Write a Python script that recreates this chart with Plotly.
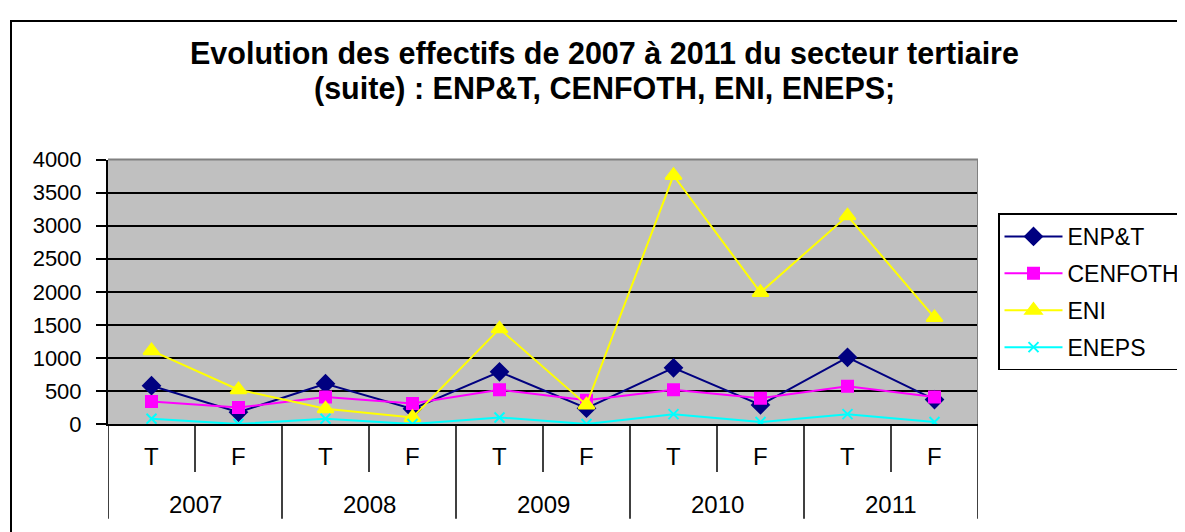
import plotly.graph_objects as go

# categories: two-level axis (year / period)
years = ["2007", "2008", "2009", "2010", "2011"]
periods = ["T", "F"]
labels = [(y, p) for y in years for p in periods]

# series values
enpt = [580, 180, 610, 230, 790, 240, 850, 290, 1010, 370]
cenfoth = [340, 250, 410, 310, 520, 360, 520, 390, 570, 410]
eni = [1110, 520, 230, 100, 1440, 290, 3760, 1990, 3150, 1610]
eneps = [80, 0, 80, 0, 100, 0, 150, 30, 150, 30]

W, H = 1185, 532
FONT = "Liberation Sans, Arial, sans-serif"

# screen -> figure pixel mapping, measured from earlier renders
X_OFF = 8
Y_OFF, Y_SCALE = 18.1, 0.955


def py(pix):
    """target screen row -> paper y"""
    fy = max((pix - Y_OFF) / Y_SCALE, 1)
    return 1 - fy / H


def px(pix):
    return (pix - X_OFF) / W


xs = list(range(len(labels)))

fig = go.Figure()

series = [
    ("ENP&T", enpt, "#000080", "diamond", 13),
    ("CENFOTH", cenfoth, "#FF00FF", "square", 11),
    ("ENI", eni, "#FFFF00", "triangle-up", 14),
    ("ENEPS", eneps, "#00FFFF", "x-thin", 10),
]
for name, vals, color, symbol, size in series:
    fig.add_trace(go.Scatter(
        x=xs,
        y=vals,
        mode="lines+markers",
        name=name,
        legendgroup=name,
        line=dict(color=color, width=2),
        marker=dict(symbol=symbol, size=size, color=color,
                    line=dict(color=color, width=2)),
    ))

shapes = []
# outer chart frame (runs off the right and bottom edge)
shapes.append(dict(type="rect", xref="paper", yref="paper",
                   x0=px(11), x1=1.2, y0=-0.2, y1=py(12),
                   line=dict(color="black", width=2), layer="below"))
# plot area border (gray top/right)
shapes.append(dict(type="line", xref="x", yref="paper",
                   x0=-0.5, x1=len(labels) - 0.5, y0=py(158), y1=py(158),
                   line=dict(color="#808080", width=2), layer="above"))
shapes.append(dict(type="line", xref="x", yref="paper",
                   x0=len(labels) - 0.5, x1=len(labels) - 0.5, y0=py(158), y1=py(423),
                   line=dict(color="#808080", width=2), layer="above"))

annotations = []
# period dividers and labels
for i, (yr, p) in enumerate(labels):
    annotations.append(dict(x=i, y=py(456), xref="x", yref="paper", text=p,
                            yanchor="middle", showarrow=False,
                            font=dict(size=24, color="black")))
    if p == periods[0]:
        shapes.append(dict(type="line", xref="x", yref="paper",
                           x0=i + 0.5, x1=i + 0.5, y0=py(423), y1=py(471),
                           line=dict(color="black", width=1.5)))
# year dividers and labels
for j, yr in enumerate(years):
    c = j * len(periods) + (len(periods) - 1) / 2
    annotations.append(dict(x=c, y=py(504), xref="x", yref="paper", text=yr,
                            yanchor="middle", showarrow=False,
                            font=dict(size=24, color="black")))
for j in range(len(years) + 1):
    xb = j * len(periods) - 0.5
    shapes.append(dict(type="line", xref="x", yref="paper",
                       x0=xb, x1=xb, y0=py(423), y1=py(518),
                       line=dict(color="black", width=1.5)))

# title, two lines
annotations.append(dict(x=px(604), y=py(51), xref="paper", yref="paper",
                        text="<b>Evolution des effectifs de 2007 à 2011 du secteur tertiaire</b>",
                        yanchor="middle", showarrow=False,
                        font=dict(size=30.5, color="black")))
annotations.append(dict(x=px(604), y=py(87), xref="paper", yref="paper",
                        text="<b>(suite) : ENP&T, CENFOTH, ENI, ENEPS;</b>",
                        yanchor="middle", showarrow=False,
                        font=dict(size=30.5, color="black")))

fig.update_layout(
    width=W,
    height=H,
    margin=dict(l=0, r=0, t=0, b=0),
    paper_bgcolor="white",
    plot_bgcolor="#C0C0C0",
    font=dict(family=FONT, color="black"),
    showlegend=True,
    legend=dict(
        x=px(998), y=py(212), xanchor="left", yanchor="top",
        bordercolor="black", borderwidth=1.5, bgcolor="white",
        font=dict(size=23, color="black"),
        tracegroupgap=4, itemwidth=58,
    ),
    shapes=shapes,
    annotations=annotations,
    xaxis=dict(
        domain=[px(108), px(978)],
        range=[-0.5, len(labels) - 0.5],
        showticklabels=False,
        showgrid=False,
        zeroline=False,
        showline=True, linecolor="black", linewidth=2,
        ticks="",
    ),
    yaxis=dict(
        domain=[py(423), py(158)],
        range=[0, 4000],
        dtick=500,
        showgrid=True, gridcolor="black", gridwidth=2,
        zeroline=False,
        showline=True, linecolor="black", linewidth=2,
        ticks="outside", ticklen=10, tickcolor="black", tickwidth=1.5,
        tickfont=dict(size=22, color="black"),
        ticklabelstandoff=10,
    ),
)

fig.write_html("out.html")
